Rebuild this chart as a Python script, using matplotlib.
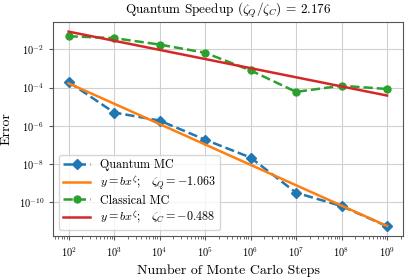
import numpy as np
import matplotlib
matplotlib.use("Agg")
import matplotlib.pyplot as plt
from matplotlib.ticker import FixedLocator, NullFormatter

plt.rcParams['font.family'] = 'serif'
plt.rcParams['font.serif'] = ['cmr10']
plt.rcParams['mathtext.fontset'] = 'cm'
plt.rcParams['axes.unicode_minus'] = False
plt.rcParams['axes.formatter.use_mathtext'] = True

steps = [1e2, 1e3, 1e4, 1e5, 1e6, 1e7, 1e8, 1e9]
quantum_err = [2.0e-4, 5.0e-6, 1.9e-6, 1.9e-7, 2.2e-8, 3.2e-10, 6.4e-11, 5.6e-12]
classical_err = [4.9e-2, 3.9e-2, 1.8e-2, 6.7e-3, 8.0e-4, 6.0e-5, 1.26e-4, 8.5e-5]
y_ticks = [1e-10, 1e-8, 1e-6, 1e-4, 1e-2]

x = np.array(steps)
lx = np.log10(x)
zq, bq = np.polyfit(lx, np.log10(quantum_err), 1)
zc, bc = np.polyfit(lx, np.log10(classical_err), 1)

fig, ax = plt.subplots(figsize=(4.15, 2.77), dpi=100)
ax.plot(x, quantum_err, color='#1f77b4', ls='--', marker='D', ms=5.5, lw=1.8,
        label='Quantum MC')
ax.plot(x, 10**(bq + zq*lx), color='#ff7f0e', lw=1.8,
        label=r'$y = bx^{\zeta};\;\;\; \zeta_Q = -1.063$')
ax.plot(x, classical_err, color='#2ca02c', ls='--', marker='o', ms=5, lw=1.8,
        label='Classical MC')
ax.plot(x, 10**(bc + zc*lx), color='#d62728', lw=1.8,
        label=r'$y = bx^{\zeta};\;\;\; \zeta_C = -0.488$')

ax.set_xscale('log')
ax.set_yscale('log')
ax.set_yticks(y_ticks)
ax.yaxis.set_minor_locator(plt.NullLocator())
ax.set_xticks(steps)
minor = [m * s for s in [1e1] + steps for m in range(2, 10)]
ax.xaxis.set_minor_locator(FixedLocator(minor))
ax.xaxis.set_minor_formatter(NullFormatter())
ax.set_xlim(10**1.66, 10**9.35)

ax.grid(True, which='major', color='#d0d0d0', lw=0.8)
for s in ax.spines.values():
    s.set_color('#555555')
    s.set_linewidth(0.8)
ax.tick_params(axis='both', which='major', labelsize=7.5, length=3, color='#555555')
ax.tick_params(axis='x', which='minor', length=1.8, color='#555555')

ax.set_xlabel('Number of Monte Carlo Steps', fontsize=10)
ax.set_ylabel('Error', fontsize=10)
ax.set_title(r'Quantum Speedup ($\zeta_Q/\zeta_C$) = 2.176', fontsize=9.5)
ax.legend(loc='lower left', fontsize=8.7, framealpha=0.8, edgecolor='#cccccc',
          handlelength=2.2, labelspacing=0.15, borderpad=0.35)

fig.subplots_adjust(left=0.128, right=0.971, top=0.921, bottom=0.148)
fig.savefig('out.png', dpi=100)
